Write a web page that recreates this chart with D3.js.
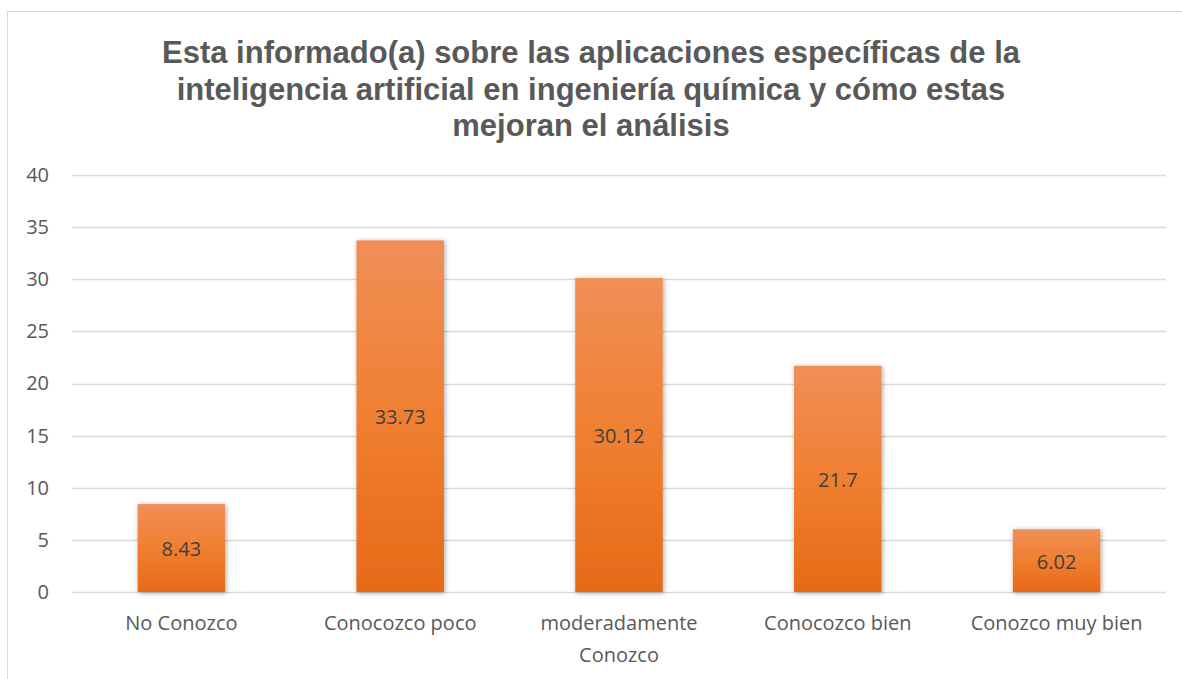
<!DOCTYPE html>
<html>
<head>
<meta charset="utf-8">
<script src="https://cdn.jsdelivr.net/npm/d3@7"></script>
<style>
  body { margin: 0; background: #fff; }
  svg { display: block; }
</style>
</head>
<body>
<svg id="chart" width="1182" height="679"></svg>
<script>
const categories = ["No Conozco", "Conocozco poco", "moderadamente Conozco", "Conocozco bien", "Conozco muy bien"]
const values = [8.43, 33.73, 30.12, 21.7, 6.02]
const yTicks = [0, 5, 10, 15, 20, 25, 30, 35, 40]
const titleLines = [
  "Esta informado(a) sobre las aplicaciones específicas de la",
  "inteligencia artificial en ingeniería química y cómo estas",
  "mejoran el análisis"
]

const svg = d3.select("#chart")
const W = 1182, H = 679
const margin = { left: 72, right: 16, top: 175, bottom: 87 }
const plotW = W - margin.left - margin.right
const plotH = H - margin.top - margin.bottom

// chart frame (right and bottom edges run past the picture)
svg.append("rect")
  .attr("x", 7.5).attr("y", 11.5)
  .attr("width", 1200).attr("height", 700)
  .attr("fill", "#fff")
  .attr("stroke", "#d9d9d9")

const defs = svg.append("defs")
const grad = defs.append("linearGradient")
  .attr("id", "barGrad").attr("x1", 0).attr("y1", 0).attr("x2", 0).attr("y2", 1)
grad.append("stop").attr("offset", "0%").attr("stop-color", "#F08F58")
grad.append("stop").attr("offset", "50%").attr("stop-color", "#F07F31")
grad.append("stop").attr("offset", "100%").attr("stop-color", "#E66A18")

const shadow = defs.append("filter").attr("id", "shadow")
  .attr("x", "-20%").attr("y", "-20%").attr("width", "140%").attr("height", "140%")
shadow.append("feDropShadow")
  .attr("dx", 1).attr("dy", 1).attr("stdDeviation", 2.5)
  .attr("flood-color", "#000").attr("flood-opacity", 0.35)

// title
svg.append("text")
  .attr("text-anchor", "middle")
  .attr("font-family", "Liberation Sans, Arial, sans-serif")
  .attr("font-weight", "bold")
  .attr("font-size", 31)
  .attr("fill", "#595959")
  .selectAll("tspan")
  .data(titleLines)
  .enter().append("tspan")
  .attr("x", 591)
  .attr("y", (d, i) => 63 + i * 36.5)
  .text(d => d)

const g = svg.append("g").attr("transform", `translate(${margin.left},${margin.top})`)

const x = d3.scaleBand()
  .domain(categories)
  .range([0, plotW])
  .paddingInner(0.6)
  .paddingOuter(0.3)

const y = d3.scaleLinear()
  .domain([0, 40])
  .range([plotH, 0])

// gridlines
g.append("g")
  .selectAll("line")
  .data(yTicks)
  .enter().append("line")
  .attr("x1", 0).attr("x2", plotW)
  .attr("y1", d => Math.round(y(d)) + 0.5)
  .attr("y2", d => Math.round(y(d)) + 0.5)
  .attr("stroke", "#d9d9d9")
  .attr("stroke-width", 1.5)

// y axis labels
const yAxis = g.append("g")
  .call(d3.axisLeft(y).tickValues(yTicks).tickSize(0).tickPadding(23))
yAxis.select(".domain").remove()
yAxis.selectAll("text")
  .attr("font-family", "Open Sans, Calibri, sans-serif")
  .attr("font-size", 20)
  .attr("fill", "#595959")

// bars
g.append("g")
  .selectAll("rect")
  .data(values)
  .enter().append("rect")
  .attr("x", (d, i) => x(categories[i]))
  .attr("y", d => y(d))
  .attr("width", x.bandwidth())
  .attr("height", d => plotH - y(d))
  .attr("fill", "url(#barGrad)")
  .attr("filter", "url(#shadow)")

// value labels
g.append("g")
  .selectAll("text")
  .data(values)
  .enter().append("text")
  .attr("x", (d, i) => x(categories[i]) + x.bandwidth() / 2)
  .attr("y", d => (y(d) + plotH) / 2 + 8)
  .attr("text-anchor", "middle")
  .attr("font-family", "Open Sans, Calibri, sans-serif")
  .attr("font-size", 20)
  .attr("fill", "#404040")
  .text(d => d)

// x axis labels (wrap long ones)
const xAxis = g.append("g")
  .attr("transform", `translate(0,${plotH})`)
  .call(d3.axisBottom(x).tickSize(0).tickPadding(24))
xAxis.select(".domain").remove()
xAxis.selectAll("text")
  .attr("font-family", "Open Sans, Calibri, sans-serif")
  .attr("font-size", 20)
  .attr("fill", "#595959")
  .each(function (d) {
    const t = d3.select(this)
    const words = d.split(" ")
    if (d.length > 20) {
      t.text(null)
      t.append("tspan").attr("x", 0).attr("dy", "0.71em").text(words.slice(0, -1).join(" "))
      t.append("tspan").attr("x", 0).attr("dy", "1.6em").text(words[words.length - 1])
    }
  })
</script>
</body>
</html>
